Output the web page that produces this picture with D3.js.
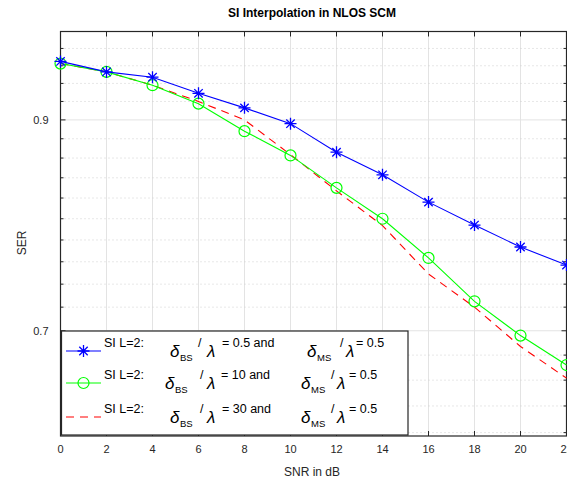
<!DOCTYPE html>
<html>
<head>
<meta charset="utf-8">
<script src="https://cdn.jsdelivr.net/npm/d3@7"></script>
<style>
  body { margin: 0; background: #fff; }
  text { font-family: "Liberation Sans", Arial, Helvetica, sans-serif; }
</style>
</head>
<body>
<div id="chart"></div>
<script>
// SNR values (dB)
const snr = [0, 2, 4, 6, 8, 10, 12, 14, 16, 18, 20, 22];
// SER for each spacing setting
const serBS05 = [0.965, 0.953, 0.947, 0.929, 0.913, 0.896, 0.866, 0.843, 0.816, 0.794, 0.7735, 0.757];
const serBS10 = [0.9625, 0.953, 0.938, 0.9176, 0.888, 0.8627, 0.830, 0.800, 0.7635, 0.725, 0.696, 0.672];
const serBS30 = [0.9625, 0.953, 0.938, 0.920, 0.900, 0.8635, 0.827, 0.7935, 0.749, 0.720, 0.687, 0.6616];
const xTicks = [0, 2, 4, 6, 8, 10, 12, 14, 16, 18, 20, 22];
const yMajor = [0.7, 0.9];
const yMinor = [0.62, 0.64, 0.66, 0.68, 0.72, 0.74, 0.76, 0.78, 0.8, 0.82, 0.84, 0.86, 0.88, 0.92, 0.94, 0.96, 0.98];
const legendBS = ["0.5", "10", "30"];

const W = 567, H = 486;
const MARGIN = { LEFT: 60.5, TOP: 31.5, RIGHT: 0.5, BOTTOM: 50 };
const WIDTH = 506, HEIGHT = 404.5;

const svg = d3.select("#chart").append("svg")
    .attr("width", W).attr("height", H);

const g = svg.append("g")
    .attr("transform", `translate(${MARGIN.LEFT}, ${MARGIN.TOP})`);

const x = d3.scaleLinear().domain([0, 22]).range([0, WIDTH]);
const y = d3.scaleLog().domain([0.6175, 1.0]).range([HEIGHT, 0]);

// grid
g.selectAll(".xgrid").data(xTicks).enter().append("line")
    .attr("x1", d => x(d)).attr("x2", d => x(d))
    .attr("y1", 0).attr("y2", HEIGHT)
    .attr("stroke", "#e3e3e3").attr("stroke-width", 1);
g.selectAll(".ymin").data(yMinor).enter().append("line")
    .attr("x1", 0).attr("x2", WIDTH)
    .attr("y1", d => y(d)).attr("y2", d => y(d))
    .attr("stroke", "#cfcfcf").attr("stroke-width", 1)
    .attr("stroke-dasharray", "1,3");
g.selectAll(".ymaj").data(yMajor).enter().append("line")
    .attr("x1", 0).attr("x2", WIDTH)
    .attr("y1", d => y(d)).attr("y2", d => y(d))
    .attr("stroke", "#e3e3e3").attr("stroke-width", 1);

// axes box and ticks
const axisColor = "#262626";
g.append("rect")
    .attr("x", 0).attr("y", 0).attr("width", WIDTH).attr("height", HEIGHT)
    .attr("fill", "none").attr("stroke", axisColor).attr("stroke-width", 1.2);

xTicks.forEach(t => {
    g.append("line").attr("x1", x(t)).attr("x2", x(t)).attr("y1", HEIGHT).attr("y2", HEIGHT - 5)
        .attr("stroke", axisColor);
    g.append("line").attr("x1", x(t)).attr("x2", x(t)).attr("y1", 0).attr("y2", 5)
        .attr("stroke", axisColor);
    g.append("text").attr("x", x(t)).attr("y", HEIGHT + 17)
        .attr("text-anchor", "middle").attr("font-size", "11px").attr("fill", axisColor)
        .text(t);
});
yMinor.forEach(t => {
    g.append("line").attr("x1", 0).attr("x2", 3).attr("y1", y(t)).attr("y2", y(t)).attr("stroke", axisColor);
    g.append("line").attr("x1", WIDTH).attr("x2", WIDTH - 3).attr("y1", y(t)).attr("y2", y(t)).attr("stroke", axisColor);
});
yMajor.forEach(t => {
    g.append("line").attr("x1", 0).attr("x2", 5).attr("y1", y(t)).attr("y2", y(t)).attr("stroke", axisColor);
    g.append("line").attr("x1", WIDTH).attr("x2", WIDTH - 5).attr("y1", y(t)).attr("y2", y(t)).attr("stroke", axisColor);
    g.append("text").attr("x", -12).attr("y", y(t)).attr("dy", "0.35em")
        .attr("text-anchor", "end").attr("font-size", "11px").attr("fill", axisColor)
        .text(d3.format(".1f")(t));
});

// series
const series = [
    { vals: serBS05, color: "#0000ff", dash: null, marker: "star" },
    { vals: serBS10, color: "#00ff00", dash: null, marker: "circle" },
    { vals: serBS30, color: "#ff0000", dash: "8,6", marker: null }
];
const line = d3.line().x(d => x(d[0])).y(d => y(d[1]));

function drawMarker(sel, type, color) {
    if (type === "circle") {
        sel.append("circle").attr("r", 5.5).attr("fill", "none")
            .attr("stroke", color).attr("stroke-width", 1.2);
    } else if (type === "star") {
        const r = 6, q = 4.2;
        sel.append("path")
            .attr("d", `M${-r},0H${r}M0,${-r}V${r}M${-q},${-q}L${q},${q}M${-q},${q}L${q},${-q}`)
            .attr("stroke", color).attr("stroke-width", 1.3).attr("fill", "none");
    }
}

series.slice().reverse().forEach(s => {
    const pts = snr.map((v, i) => [v, s.vals[i]]);
    g.append("path").datum(pts)
        .attr("d", line).attr("fill", "none")
        .attr("stroke", s.color).attr("stroke-width", 1.1)
        .attr("stroke-dasharray", s.dash);
    if (s.marker) {
        pts.forEach(p => {
            const m = g.append("g").attr("transform", `translate(${x(p[0])},${y(p[1])})`);
            drawMarker(m, s.marker, s.color);
        });
    }
});

// title and labels
svg.append("text").attr("x", 312).attr("y", 17).attr("text-anchor", "middle")
    .attr("font-size", "12px").attr("font-weight", "bold").attr("fill", "#000")
    .text("SI Interpolation in NLOS SCM");
svg.append("text").attr("x", 312).attr("y", 476).attr("text-anchor", "middle")
    .attr("font-size", "12px").attr("fill", axisColor).text("SNR in dB");
svg.append("text").attr("transform", "translate(26,243) rotate(-90)")
    .attr("text-anchor", "middle").attr("font-size", "12px").attr("fill", axisColor).text("SER");

// legend
const lg = svg.append("g");
lg.append("rect").attr("x", 61.5).attr("y", 331).attr("width", 346.5).attr("height", 104)
    .attr("fill", "#fff").attr("stroke", axisColor).attr("stroke-width", 1.2);

const rowY = [351, 383, 417];
const rowOff = [[170, 198, 207, 222, 307, 340, 346, 356], [165, 200, 207, 221, 301, 331, 337, 349], [170, 200, 207, 222, 301, 331, 337, 349]];
series.forEach((s, i) => {
    const ly = rowY[i];
    lg.append("line").attr("x1", 66).attr("x2", 101).attr("y1", ly).attr("y2", ly)
        .attr("stroke", s.color).attr("stroke-width", 1.1).attr("stroke-dasharray", s.dash);
    if (s.marker) {
        drawMarker(lg.append("g").attr("transform", `translate(83.5,${ly})`), s.marker, s.color);
    }
    const o = rowOff[i];
    const base = ly - 4;
    lg.append("text").attr("x", 104).attr("y", base).attr("font-size", "12.5px").attr("fill", "#000").text("SI L=2:");
    const sym = (xx, ch) => lg.append("text").attr("x", xx).attr("y", base + 10)
        .attr("font-family", "'Liberation Serif', 'Times New Roman', serif").attr("font-style", "italic")
        .attr("font-size", "17px").attr("fill", "#000").text(ch);
    sym(o[0], "δ");
    lg.append("text").attr("x", o[0] + 10).attr("y", base + 14).attr("font-size", "9.5px").attr("fill", "#000").text("BS");
    lg.append("text").attr("x", o[1]).attr("y", base).attr("font-size", "12.5px").attr("fill", "#000").text("/");
    sym(o[2], "λ");
    lg.append("text").attr("x", o[3]).attr("y", base).attr("font-size", "12.5px").attr("fill", "#000")
        .text(`= ${legendBS[i]} and`);
    sym(o[4], "δ");
    lg.append("text").attr("x", o[4] + 10).attr("y", base + 14).attr("font-size", "9.5px").attr("fill", "#000").text("MS");
    lg.append("text").attr("x", o[5]).attr("y", base).attr("font-size", "12.5px").attr("fill", "#000").text("/");
    sym(o[6], "λ");
    lg.append("text").attr("x", o[7]).attr("y", base).attr("font-size", "12.5px").attr("fill", "#000").text("= 0.5");
});
</script>
</body>
</html>
